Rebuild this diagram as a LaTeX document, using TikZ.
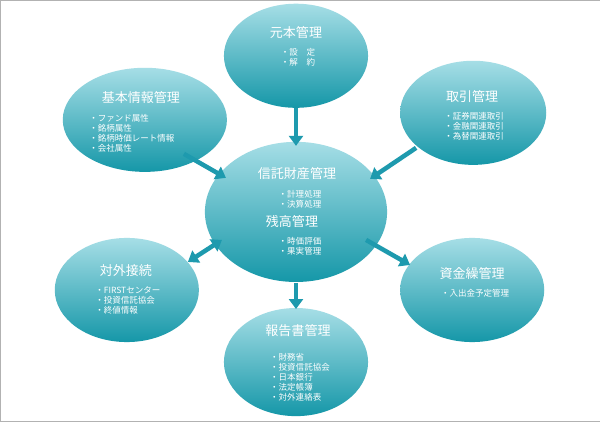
\documentclass[tikz,border=0pt]{standalone}
\usepackage{fontspec}
\setmainfont{Noto Sans CJK JP}
\usetikzlibrary{arrows.meta}
\definecolor{tl}{HTML}{A6DEE6}
\definecolor{td}{HTML}{1597A8}
\definecolor{ar}{HTML}{1E9AAE}
\tikzset{
 ttl/.style={text=white, font=\fontsize{13}{15}\selectfont},
 itm/.style={text=white, font=\fontsize{8.5}{10}\selectfont, align=left},
 con/.style={draw=ar, line width=4.5pt, -{Triangle[length=10pt,width=14pt]}},
 con2/.style={draw=ar, line width=4.5pt, {Triangle[length=10pt,width=14pt]}-{Triangle[length=10pt,width=14pt]}}
}
\begin{document}
\begin{tikzpicture}[x=1pt,y=-1pt]
\path[use as bounding box, draw=gray!60, fill=white] (0.5,0.5) rectangle (599.5,421.5);
\def\ell#1#2#3#4{\shade[top color=tl, bottom color=td] (#1,#2) ellipse [x radius=#3, y radius=#4];}
\ell{296}{56}{72}{52}
\ell{145}{120}{82}{52}
\ell{473}{113}{73}{52}
\ell{296}{212}{91}{70}
\ell{127}{290}{72}{52}
\ell{472}{290}{72}{52}
\ell{296}{362}{72}{54}
\coordinate (a1) at (296,108); \coordinate (a2) at (296,146);
\coordinate (b1) at (184,154); \coordinate (b2) at (226,178);
\coordinate (c1) at (416,148); \coordinate (c2) at (370,179);
\coordinate (d1) at (366,240); \coordinate (d2) at (410,265);
\coordinate (e1) at (188,262); \coordinate (e2) at (222,240);
\coordinate (f1) at (296,283); \coordinate (f2) at (296,309);
\draw[con] (a1) -- (a2);
\draw[con] (b1) -- (b2);
\draw[con] (c1) -- (c2);
\draw[con] (d1) -- (d2);
\draw[con2] (e1) -- (e2);
\draw[con] (f1) -- (f2);
\node[ttl] (t1) at (296,33) {元本管理};
\node[itm] (i1) at (298,58) {・設\quad 定\\・解\quad 約};
\node[ttl] (t2) at (141,98) {基本情報管理};
\node[itm] (i2) at (132,133) {・ファンド属性\\・銘柄属性\\・銘柄時価レート情報\\・会社属性};
\node[ttl] (t3) at (472,97) {取引管理};
\node[itm] (i3) at (474,126) {・証券関連取引\\・金融関連取引\\・為替関連取引};
\node[ttl] (t4) at (297,174) {信託財産管理};
\node[itm] (i4) at (300,199) {・計理処理\\・決算処理};
\node[ttl] (t5) at (292,222) {残高管理};
\node[itm] (i5) at (300,246) {・時価評価\\・果実管理};
\node[ttl] (t6) at (126,271) {対外接続};
\node[itm] (i6) at (128,300) {・FIRSTセンター\\・投資信託協会\\・終値情報};
\node[ttl] (t7) at (472,274) {資金繰管理};
\node[itm] (i7) at (475,293) {・入出金予定管理};
\node[ttl] (t8) at (298,331) {報告書管理};
\node[itm] (i8) at (300,377) {・財務省\\・投資信託協会\\・日本銀行\\・法定帳簿\\・対外連絡表};
\end{tikzpicture}
\end{document}
